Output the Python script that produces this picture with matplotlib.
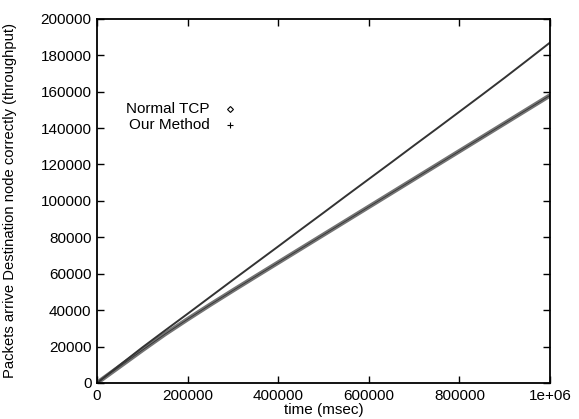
import numpy as np
import matplotlib.pyplot as plt

# time axis (msec) and packets arriving correctly at destination
time_ms = [0, 50000, 100000, 150000, 200000, 250000, 300000, 350000, 400000,
           450000, 500000, 550000, 600000, 650000, 700000, 750000, 800000,
           850000, 900000, 950000, 1000000]
normal_tcp = [0, 9000, 18000, 26800, 35000, 43000, 50800, 58500, 66150,
              73800, 81450, 89100, 96750, 104400, 112050, 119700, 127350,
              135000, 142650, 150300, 157950]
our_method = [0, 9800, 19500, 28800, 38000, 47300, 56600, 65800, 75000,
              84300, 93500, 102800, 112000, 121200, 130500, 139700, 149000,
              158300, 167700, 177300, 187000]
labels = ['Normal TCP', 'Our Method']

plt.rcParams['font.family'] = ['Liberation Sans', 'DejaVu Sans']

fig = plt.figure(figsize=(5.79, 4.19), dpi=100)
ax = fig.add_axes([0.1675, 0.086, 0.7825, 0.869])

ax.plot(time_ms, normal_tcp, color='0.45', linewidth=3.2, solid_capstyle='butt')
ax.plot(time_ms, normal_tcp, color='0.2', linewidth=0.6)
ax.plot(time_ms, our_method, color='0.2', linewidth=1.4)

ax.set_xlim(0, 1000000)
ax.set_ylim(0, 200000)
ax.set_xticks([0, 200000, 400000, 600000, 800000, 1000000])
ax.set_xticklabels(['0', '200000', '400000', '600000', '800000', '1e+06'])
ax.set_yticks(np.arange(0, 200001, 20000))
ax.set_yticklabels([str(v) for v in range(0, 200001, 20000)])
ax.tick_params(direction='in', top=True, right=True, length=5, width=1,
               labelsize=11, pad=4)
for s in ax.spines.values():
    s.set_linewidth(1.3)

ax.set_xlabel('time (msec)', fontsize=11, labelpad=0)
ax.set_ylabel('Packets arrive Destination node correctly (throughput)',
              fontsize=10.6)
ax.yaxis.set_label_coords(-0.176, 0.5)

# gnuplot-style key: labels right aligned, symbol to the right
key_y = [0.753, 0.709]
ax.text(0.249, key_y[0], labels[0], transform=ax.transAxes, ha='right',
        va='center', fontsize=11)
ax.text(0.249, key_y[1], labels[1], transform=ax.transAxes, ha='right',
        va='center', fontsize=11)
ax.plot([0.294], [key_y[0]], transform=ax.transAxes, linestyle='none',
        marker='D', markersize=3, markerfacecolor='white',
        markeredgecolor='black', markeredgewidth=0.8)
ax.plot([0.294], [key_y[1]], transform=ax.transAxes, linestyle='none',
        marker='+', markersize=5, color='black', markeredgewidth=0.8)

fig.savefig('out.png', dpi=100)
